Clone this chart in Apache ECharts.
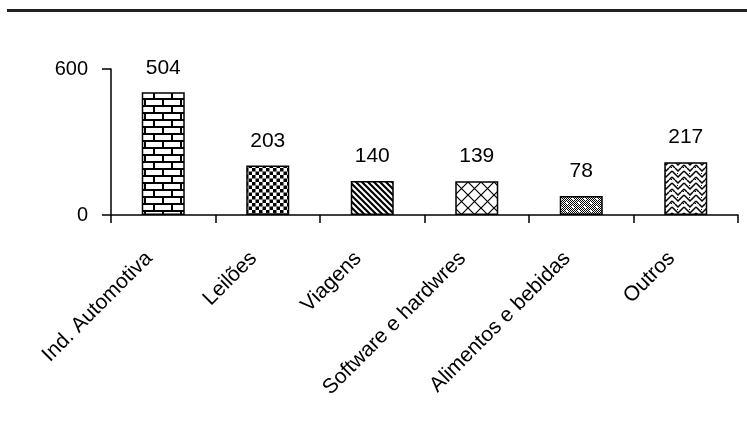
<!DOCTYPE html>
<html>
<head>
<meta charset="utf-8">
<script src="https://cdn.jsdelivr.net/npm/echarts@6/dist/echarts.min.js"></script>
<style>
  html, body { margin: 0; padding: 0; background: #fff; }
  #chart { width: 747px; height: 441px; }
</style>
</head>
<body>
<div id="chart"></div>
<script>
// Sectors and counts
const categories = ['Ind. Automotiva', 'Leilões', 'Viagens', 'Software e hardwres', 'Alimentos e bebidas', 'Outros'];
const values = [504, 203, 140, 139, 78, 217];
const yTicks = [0, 600];

// Hatch fills, one per bar
function tile(w, h, draw) {
  const c = document.createElement('canvas');
  c.width = w; c.height = h;
  const g = c.getContext('2d');
  g.fillStyle = '#fff';
  g.fillRect(0, 0, w, h);
  g.fillStyle = '#000';
  g.strokeStyle = '#000';
  draw(g, w, h);
  return { image: c, repeat: 'repeat' };
}

const fills = [
  // brick
  tile(18, 14, (g) => {
    g.fillRect(0, 0, 18, 2);
    g.fillRect(0, 7, 18, 2);
    g.fillRect(0, 0, 2, 7);
    g.fillRect(9, 7, 2, 7);
  }),
  // small checkerboard
  tile(7, 7, (g) => {
    g.fillRect(0, 0, 3.5, 3.5);
    g.fillRect(3.5, 3.5, 3.5, 3.5);
  }),
  // diagonal stripes
  tile(6, 6, (g) => {
    g.lineWidth = 2.2;
    g.beginPath();
    g.moveTo(-6, -6); g.lineTo(12, 12);
    g.moveTo(-12, -6); g.lineTo(6, 12);
    g.moveTo(0, -6); g.lineTo(18, 12);
    g.stroke();
  }),
  // diamond lattice
  tile(13, 13, (g) => {
    g.lineWidth = 1.2;
    g.beginPath();
    g.moveTo(0, 0); g.lineTo(13, 13);
    g.moveTo(13, 0); g.lineTo(0, 13);
    g.stroke();
  }),
  // dense dots with light specks
  tile(12, 8, (g) => {
    for (let y = 0; y < 8; y++) {
      for (let x = 0; x < 12; x++) {
        if ((x + y) % 2 === 0) g.fillRect(x, y, 1, 1);
      }
    }
    g.fillStyle = '#fff';
    g.fillRect(2, 2, 2, 2);
    g.fillRect(8, 6, 2, 2);
  }),
  // weave
  tile(12, 12, (g) => {
    g.lineWidth = 1.5;
    g.beginPath();
    g.moveTo(0, 3); g.lineTo(6, 9); g.lineTo(12, 3);
    g.moveTo(0, 9); g.lineTo(3, 12);
    g.moveTo(12, 9); g.lineTo(9, 12);
    g.moveTo(3, 0); g.lineTo(6, 3); g.lineTo(9, 0);
    g.stroke();
    g.fillRect(5, 5, 1, 1);
    g.fillRect(11, 11, 1, 1);
  })
];

const FONT = 'Liberation Sans, Arial, sans-serif';
const chart = echarts.init(document.getElementById('chart'), null, { renderer: 'canvas' });

chart.setOption({
  animation: false,
  backgroundColor: '#fff',
  textStyle: { fontFamily: FONT, color: '#000' },
  graphic: [{
    type: 'rect',
    shape: { x: 7, y: 9, width: 740, height: 3 },
    style: { fill: '#222' }
  }],
  grid: { left: 111, right: 9, top: 69, bottom: 226, containLabel: false },
  xAxis: {
    type: 'category',
    data: categories,
    boundaryGap: true,
    axisLine: { lineStyle: { color: '#000', width: 1.5 } },
    axisTick: { show: true, length: 8, alignWithLabel: false, lineStyle: { color: '#000', width: 1.5 } },
    axisLabel: {
      interval: 0,
      rotate: 45,
      margin: 26,
      padding: [0, 20, 0, 0],
      fontSize: 21,
      color: '#000',
      fontFamily: FONT
    },
    splitLine: { show: false }
  },
  yAxis: {
    type: 'value',
    min: yTicks[0],
    max: yTicks[yTicks.length - 1],
    interval: yTicks[1] - yTicks[0],
    axisLine: { show: true, lineStyle: { color: '#000', width: 1.5 } },
    axisTick: { show: true, length: 9, lineStyle: { color: '#000', width: 1.5 } },
    axisLabel: { margin: 23, fontSize: 20, color: '#000', fontFamily: FONT },
    splitLine: { show: false }
  },
  series: [{
    type: 'bar',
    barWidth: 43,
    data: values.map((v, i) => ({
      value: v,
      itemStyle: { color: fills[i], borderColor: '#000', borderWidth: 1.5 }
    })),
    label: {
      show: true,
      position: 'top',
      distance: 14,
      fontSize: 21,
      color: '#000',
      fontFamily: FONT
    }
  }]
});
</script>
</body>
</html>
